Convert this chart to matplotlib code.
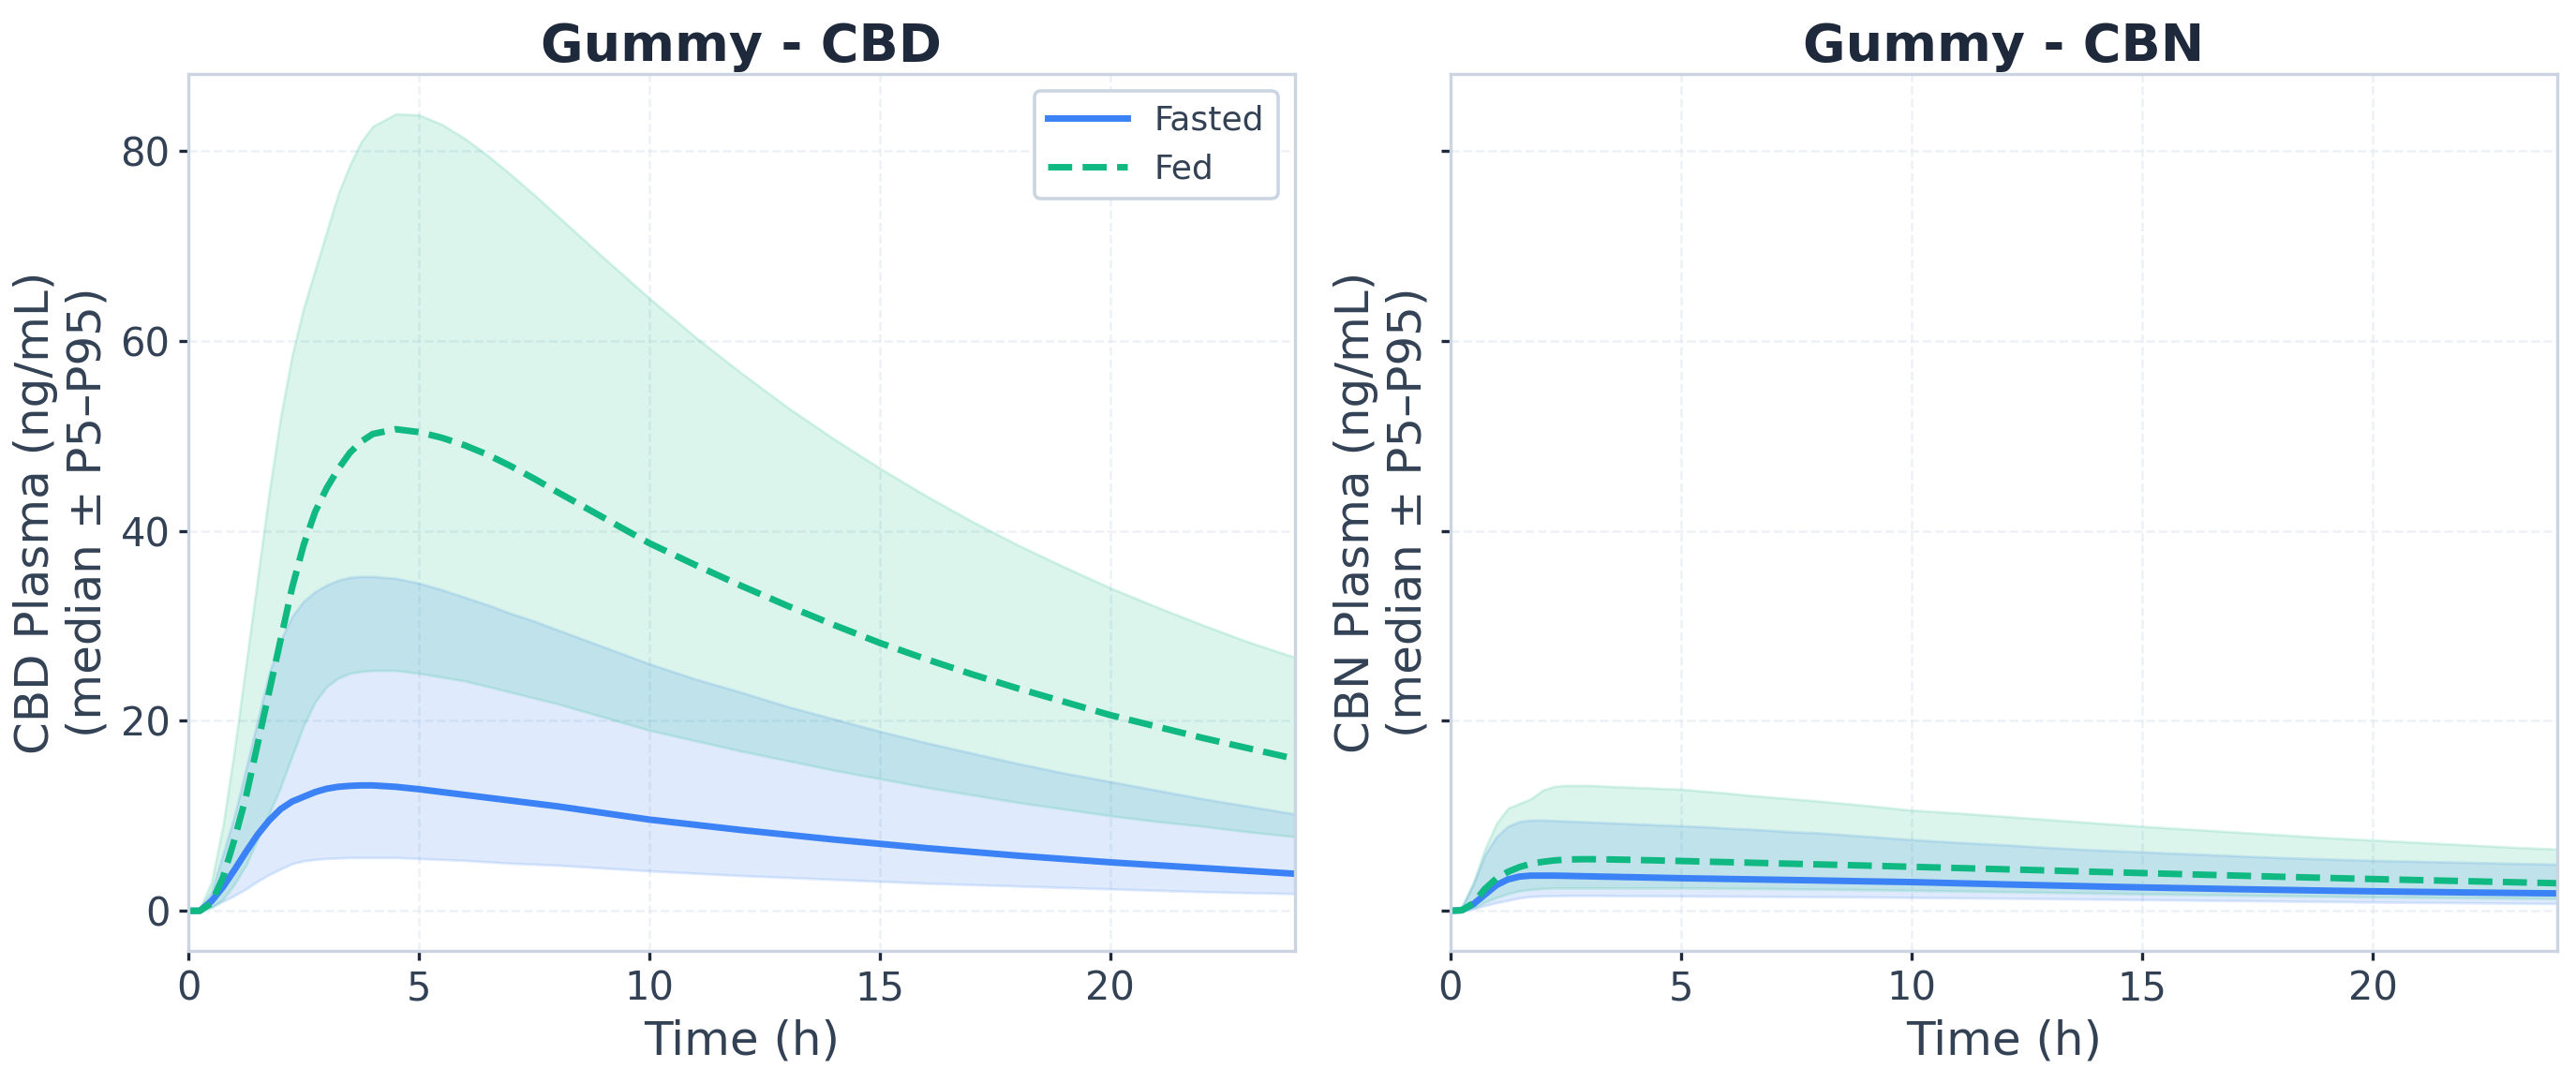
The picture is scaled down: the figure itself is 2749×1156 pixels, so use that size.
import numpy as np
import matplotlib
matplotlib.use("Agg")
import matplotlib.pyplot as plt

# ---------------- data ----------------
time_h = [0, 0.25, 0.5, 0.75, 1, 1.25, 1.5, 1.75, 2, 2.25, 2.5, 2.75, 3, 3.25, 3.5, 3.75,
          4, 4.5, 5, 5.5, 6, 6.5, 7, 7.5, 8, 9, 10, 11, 12, 13, 14, 15, 16, 17, 18,
          19, 20, 21, 22, 23, 24]

# CBD (ng/mL)
cbd_fasted_med = [0, 0, 1.0, 2.5, 4.3, 6.2, 8.0, 9.5, 10.7, 11.5, 12.0, 12.5, 12.85, 13.05, 13.15, 13.2,
                  13.2, 13.05, 12.8, 12.5, 12.2, 11.9, 11.6, 11.3, 11.0, 10.3, 9.6, 9.05, 8.5, 8.0, 7.5,
                  7.05, 6.6, 6.2, 5.8, 5.45, 5.1, 4.8, 4.5, 4.2, 3.9]
cbd_fasted_p5 = [0, 0.05, 0.4, 1.0, 1.6, 2.3, 3.1, 3.8, 4.4, 4.95, 5.25, 5.4, 5.5, 5.55, 5.6, 5.6,
                 5.6, 5.6, 5.5, 5.4, 5.3, 5.15, 5.0, 4.9, 4.8, 4.5, 4.2, 3.95, 3.7, 3.5, 3.3,
                 3.1, 2.9, 2.75, 2.6, 2.45, 2.3, 2.15, 2.0, 1.9, 1.8]
cbd_fasted_p95 = [0, 0.2, 2.0, 6.0, 10.0, 15.0, 20.0, 25.0, 28.5, 31.0, 32.6, 33.6, 34.3, 34.8, 35.1, 35.2,
                  35.2, 35.0, 34.5, 33.8, 33.0, 32.2, 31.3, 30.5, 29.6, 27.8, 26.0, 24.4, 23.0, 21.5, 20.2,
                  18.9, 17.7, 16.6, 15.5, 14.5, 13.6, 12.7, 11.8, 11.0, 10.2]
cbd_fed_med = [0, 0, 0.8, 3.5, 7.5, 12.0, 17.5, 23.0, 28.5, 34.0, 38.5, 42.0, 44.5, 46.5, 48.2, 49.4,
               50.2, 50.7, 50.4, 49.8, 49.0, 48.0, 46.8, 45.5, 44.1, 41.4, 38.7, 36.4, 34.2, 32.1, 30.1,
               28.2, 26.5, 24.9, 23.4, 22.0, 20.6, 19.4, 18.2, 17.1, 16.0]
cbd_fed_p5 = [0, 0, 0.3, 1.2, 2.8, 4.8, 7.5, 10.2, 13.0, 16.3, 19.5, 22.0, 23.6, 24.5, 25.0, 25.2,
              25.3, 25.3, 25.0, 24.6, 24.2, 23.6, 23.0, 22.4, 21.8, 20.4, 19.0, 17.9, 16.8, 15.8, 14.8,
              13.9, 13.0, 12.2, 11.4, 10.7, 10.0, 9.4, 8.9, 8.3, 7.8]
cbd_fed_p95 = [0, 0.3, 3.0, 9.0, 17.0, 26.0, 35.0, 44.0, 52.0, 58.5, 63.5, 67.5, 71.5, 75.5, 78.5, 81.0,
               82.6, 83.9, 83.8, 82.8, 81.3, 79.5, 77.5, 75.4, 73.2, 68.8, 64.5, 60.4, 56.6, 53.0, 49.7,
               46.6, 43.7, 41.0, 38.5, 36.2, 34.0, 32.0, 30.1, 28.3, 26.7]

# CBN (ng/mL)
cbn_fasted_med = [0, 0.05, 0.7, 1.7, 2.7, 3.3, 3.6, 3.7, 3.7, 3.7, 3.68, 3.65, 3.63, 3.6, 3.58, 3.55,
                  3.53, 3.48, 3.43, 3.39, 3.35, 3.31, 3.27, 3.23, 3.19, 3.1, 3.02, 2.9, 2.78, 2.67, 2.56,
                  2.46, 2.37, 2.28, 2.2, 2.12, 2.05, 1.99, 1.93, 1.88, 1.83]
cbn_fasted_p5 = [0, 0, 0.2, 0.55, 0.85, 1.1, 1.35, 1.5, 1.55, 1.58, 1.6, 1.6, 1.6, 1.6, 1.59, 1.58,
                 1.57, 1.56, 1.55, 1.54, 1.53, 1.52, 1.5, 1.49, 1.48, 1.45, 1.4, 1.36, 1.32, 1.27, 1.22,
                 1.17, 1.12, 1.07, 1.02, 0.97, 0.92, 0.88, 0.84, 0.8, 0.76]
cbn_fasted_p95 = [0, 0.4, 2.8, 5.9, 7.8, 8.9, 9.4, 9.55, 9.55, 9.5, 9.45, 9.4, 9.35, 9.3, 9.25, 9.2,
                  9.15, 9.05, 8.95, 8.85, 8.7, 8.6, 8.45, 8.3, 8.2, 7.85, 7.5, 7.2, 6.95, 6.65, 6.4,
                  6.2, 6.0, 5.8, 5.6, 5.45, 5.3, 5.2, 5.1, 5.0, 4.9]
cbn_fed_med = [0, 0.05, 0.8, 2.3, 3.4, 4.1, 4.6, 4.95, 5.15, 5.3, 5.38, 5.42, 5.43, 5.42, 5.4, 5.38,
               5.35, 5.3, 5.24, 5.18, 5.12, 5.06, 5.0, 4.94, 4.88, 4.76, 4.63, 4.5, 4.37, 4.24, 4.1,
               3.97, 3.84, 3.71, 3.58, 3.46, 3.34, 3.23, 3.12, 3.01, 2.9]
cbn_fed_p5 = [0, 0, 0.3, 0.9, 1.4, 1.8, 2.1, 2.25, 2.35, 2.4, 2.4, 2.4, 2.4, 2.4, 2.4, 2.4,
              2.4, 2.4, 2.4, 2.39, 2.37, 2.35, 2.33, 2.3, 2.28, 2.22, 2.15, 2.08, 2.0, 1.93, 1.85,
              1.78, 1.71, 1.64, 1.58, 1.52, 1.46, 1.41, 1.36, 1.32, 1.28]
cbn_fed_p95 = [0, 0.4, 3.0, 6.5, 9.2, 10.8, 11.3, 11.8, 12.7, 13.1, 13.2, 13.2, 13.2, 13.15, 13.1, 13.05,
               13.0, 12.9, 12.8, 12.6, 12.4, 12.15, 11.95, 11.75, 11.55, 11.1, 10.6, 10.3, 9.95, 9.6, 9.25,
               8.9, 8.6, 8.3, 8.0, 7.7, 7.45, 7.2, 6.95, 6.7, 6.5]

titles = ["Gummy - CBD", "Gummy - CBN"]
ylabels = ["CBD Plasma (ng/mL)\n(median \u00b1 P5\u2013P95)",
           "CBN Plasma (ng/mL)\n(median \u00b1 P5\u2013P95)"]
conditions = ["Fasted", "Fed"]

# ---------------- style ----------------
BLUE = "#3b82f6"
GREEN = "#10b981"
TEXT = "#334155"
TITLE = "#1e293b"
SPINE = "#cbd5e1"
GRID = "#e2e8f0"

plt.rcParams["font.family"] = ["DejaVu Sans"]

fig = plt.figure(figsize=(2749 / 200, 1156 / 200), dpi=200)
ax1 = fig.add_axes([0.07312, 0.12224, 0.4295, 0.8094])
ax2 = fig.add_axes([0.5630, 0.12224, 0.4297, 0.8094], sharey=ax1)

panels = [
    (ax1, cbd_fasted_med, cbd_fasted_p5, cbd_fasted_p95, cbd_fed_med, cbd_fed_p5, cbd_fed_p95),
    (ax2, cbn_fasted_med, cbn_fasted_p5, cbn_fasted_p95, cbn_fed_med, cbn_fed_p5, cbn_fed_p95),
]

t = np.array(time_h)
for i, (ax, fm, f5, f95, dm, d5, d95) in enumerate(panels):
    ax.fill_between(t, f5, f95, color=BLUE, alpha=0.16, linewidth=1.0)
    ax.plot(t, fm, color=BLUE, lw=2.5, label=conditions[0])
    ax.fill_between(t, d5, d95, color=GREEN, alpha=0.15, linewidth=1.0)
    ax.plot(t, dm, color=GREEN, lw=2.5, ls="--", label=conditions[1])

    ax.set_xlim(0, 24)
    ax.set_title(titles[i], fontsize=20, fontweight="bold", color=TITLE, pad=5)
    ax.set_xlabel("Time (h)", fontsize=18, color=TEXT)
    ax.set_ylabel(ylabels[i], fontsize=18, color=TEXT)
    ax.grid(True, ls="--", color=GRID, lw=0.9, alpha=0.6)
    ax.set_axisbelow(True)
    for s in ax.spines.values():
        s.set_color(SPINE)
        s.set_linewidth(1.2)
    ax.tick_params(axis="both", labelsize=15, labelcolor=TEXT, color="#1e293b",
                   length=3.5, width=1.2)

ax1.set_yticks([0, 20, 40, 60, 80])
ax2.tick_params(axis="y", labelleft=False)

leg = ax1.legend(loc="upper right", fontsize=13, frameon=True, fancybox=True,
                 edgecolor=SPINE, framealpha=1.0, handlelength=2.35)
for txt in leg.get_texts():
    txt.set_color(TEXT)
leg.get_frame().set_linewidth(1.3)

fig.savefig("out.png", dpi=200)
